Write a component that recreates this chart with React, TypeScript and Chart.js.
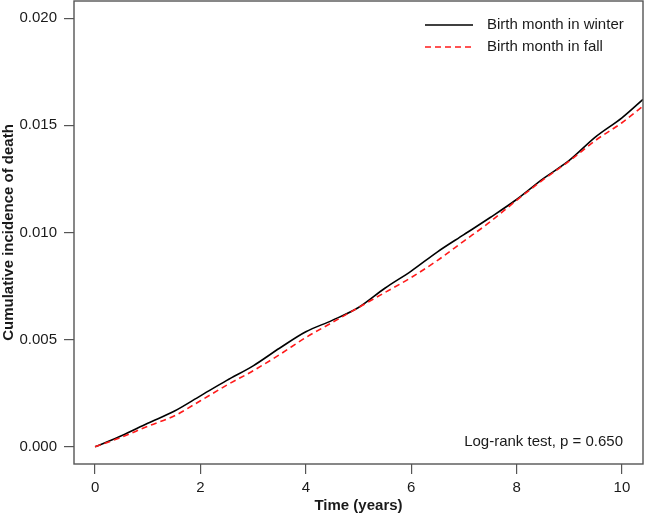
import React, { useEffect, useRef } from "react";
import { Chart, registerables } from "chart.js";

Chart.register(...registerables);

const timeYears = [0, 0.5, 1, 1.5, 2, 2.5, 3, 3.5, 4, 4.5, 5, 5.5, 6, 6.5, 7, 7.5, 8, 8.5, 9, 9.5, 10, 10.4];
const winterIncidence = [0, 0.00052, 0.0011, 0.00166, 0.00238, 0.0031, 0.00378, 0.0046, 0.00537, 0.0059, 0.0065, 0.0074, 0.0082, 0.0091, 0.0099, 0.0107, 0.01154, 0.0125, 0.01336, 0.01446, 0.01535, 0.01621];
const fallIncidence = [0, 0.00045, 0.00096, 0.00144, 0.00215, 0.00288, 0.00355, 0.0043, 0.0051, 0.0058, 0.0065, 0.0072, 0.0079, 0.0087, 0.0096, 0.0105, 0.0115, 0.01245, 0.01333, 0.0143, 0.01512, 0.0159];
const yTicks = [0, 0.005, 0.01, 0.015, 0.02];
const xTicks = [0, 2, 4, 6, 8, 10];
const seriesNames = ["Birth month in winter", "Birth month in fall"];
const annotationText = "Log-rank test, p = 0.650";

const FONT = "'Liberation Sans', Arial, Helvetica, sans-serif";
const TEXT = "#1a1a1a";
const FRAME = "#555555";

const framePlugin = {
  id: "rframe",
  afterDraw(chart: any) {
    const { ctx, chartArea } = chart;
    const { left, right, top, bottom } = chartArea;
    ctx.save();
    ctx.strokeStyle = FRAME;
    ctx.lineWidth = 1.4;
    ctx.strokeRect(left, top, right - left, bottom - top);

    // legend
    const lx0 = right - 218;
    const lx1 = right - 170;
    const tx = right - 156;
    const rows = [
      { y: top + 24, color: "#000000", dash: [] as number[] },
      { y: top + 46, color: "#ff1a1a", dash: [6, 4] },
    ];
    ctx.font = `15px ${FONT}`;
    ctx.textBaseline = "middle";
    ctx.textAlign = "left";
    rows.forEach((r, i) => {
      ctx.beginPath();
      ctx.setLineDash(r.dash);
      ctx.strokeStyle = r.color;
      ctx.lineWidth = 1.5;
      ctx.moveTo(lx0, r.y);
      ctx.lineTo(lx1, r.y);
      ctx.stroke();
      ctx.setLineDash([]);
      ctx.fillStyle = TEXT;
      ctx.fillText(seriesNames[i], tx, r.y);
    });

    // log-rank annotation
    ctx.textAlign = "right";
    ctx.fillText(annotationText, right - 20, bottom - 22);
    ctx.restore();
  },
};

export default function App() {
  const canvasRef = useRef<HTMLCanvasElement | null>(null);

  useEffect(() => {
    const canvas = canvasRef.current;
    if (!canvas) return;
    const winterData = timeYears.map((t, i) => ({ x: t, y: winterIncidence[i] }));
    const fallData = timeYears.map((t, i) => ({ x: t, y: fallIncidence[i] }));

    const chart = new Chart(canvas, {
      type: "line",
      data: {
        datasets: [
          {
            label: seriesNames[0],
            data: winterData,
            borderColor: "#000000",
            borderWidth: 1.6,
            pointRadius: 0,
            cubicInterpolationMode: "monotone",
            order: 2,
          },
          {
            label: seriesNames[1],
            data: fallData,
            borderColor: "#ff1a1a",
            borderWidth: 1.6,
            borderDash: [6, 4],
            pointRadius: 0,
            cubicInterpolationMode: "monotone",
            order: 1,
          },
        ],
      },
      options: {
        responsive: false,
        animation: false,
        layout: { padding: { top: 1, right: 2, left: 0, bottom: 0 } },
        plugins: {
          legend: { display: false },
          tooltip: { enabled: false },
        },
        scales: {
          x: {
            type: "linear",
            min: -0.4,
            max: 10.4,
            afterBuildTicks: (scale: any) => {
              scale.ticks = xTicks.map((v) => ({ value: v }));
            },
            afterFit: (scale: any) => {
              scale.height = 52;
              scale.paddingLeft = 0;
              scale.paddingRight = 0;
              scale.paddingTop = 0;
              scale.paddingBottom = 0;
            },
            grid: {
              drawOnChartArea: false,
              drawTicks: true,
              tickLength: 10,
              color: FRAME,
              lineWidth: 1.2,
            },
            border: { display: false },
            ticks: {
              padding: 5,
              color: TEXT,
              font: { family: FONT, size: 15 },
              callback: (v: any) => String(v),
              maxRotation: 0,
            },
            title: {
              display: true,
              text: "Time (years)",
              color: TEXT,
              font: { family: FONT, size: 15, weight: "bold" },
              padding: { top: 0, bottom: 1 },
            },
          },
          y: {
            type: "linear",
            min: -0.0008,
            max: 0.0208,
            afterBuildTicks: (scale: any) => {
              scale.ticks = yTicks.map((v) => ({ value: v }));
            },
            afterFit: (scale: any) => {
              scale.width = 74;
              scale.paddingLeft = 0;
              scale.paddingRight = 0;
              scale.paddingTop = 0;
              scale.paddingBottom = 0;
            },
            grid: {
              drawOnChartArea: false,
              drawTicks: true,
              tickLength: 10,
              color: FRAME,
              lineWidth: 1.2,
            },
            border: { display: false },
            ticks: {
              padding: 7,
              color: TEXT,
              font: { family: FONT, size: 15 },
              callback: (v: any) => Number(v).toFixed(3),
            },
            title: {
              display: true,
              text: "Cumulative incidence of death",
              color: TEXT,
              font: { family: FONT, size: 15, weight: "bold" },
              padding: { top: 0, bottom: 0 },
            },
          },
        },
      },
      plugins: [framePlugin],
    });
    return () => chart.destroy();
  }, []);

  return (
    <div style={{ position: "absolute", left: 0, top: 0, width: 645, height: 516, background: "#ffffff" }}>
      <canvas ref={canvasRef} width={645} height={516} style={{ display: "block" }} />
    </div>
  );
}
